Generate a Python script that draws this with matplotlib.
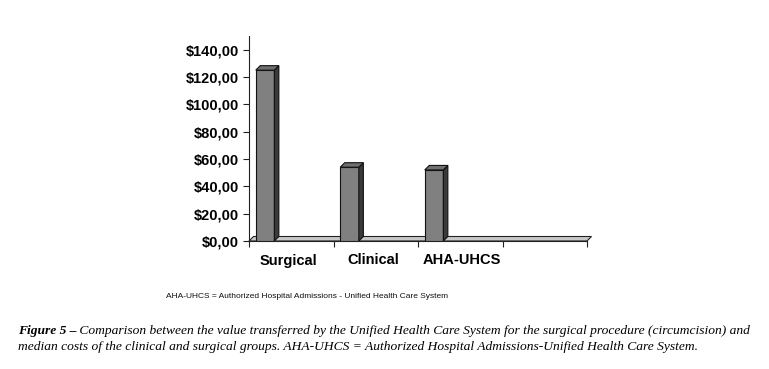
import matplotlib
matplotlib.use("Agg")
import matplotlib.pyplot as plt
from matplotlib.patches import Polygon
from matplotlib.transforms import ScaledTranslation

categories = ["Surgical", "Clinical", "AHA-UHCS", ""]
values = [125.0, 54.0, 52.0, 0.0]
ytick_values = [0, 20, 40, 60, 80, 100, 120, 140]
ytick_labels = ["$0,00", "$20,00", "$40,00", "$60,00", "$80,00", "$100,00", "$120,00", "$140,00"]
footnote = "AHA-UHCS = Authorized Hospital Admissions - Unified Health Care System"
caption_bold = "Figure 5 \u2013"
caption_line1 = " Comparison between the value transferred by the Unified Health Care System for the surgical procedure (circumcision) and"
caption_line2 = "median costs of the clinical and surgical groups. AHA-UHCS = Authorized Hospital Admissions-Unified Health Care System."

W, H = 769, 369
fig = plt.figure(figsize=(W / 100, H / 100), dpi=100)
left, right, top, bottom = 249, 587, 36, 241
ax = fig.add_axes([left / W, 1 - bottom / H, (right - left) / W, (bottom - top) / H])
ax.set_xlim(0, 4)
ax.set_ylim(0, 150)

depth_px = 4.5
dx = depth_px / (right - left) * 4
dy = depth_px / (bottom - top) * 150

floor = Polygon([(0, 0), (4, 0), (4 + dx, dy), (0 + dx, dy)], closed=True,
                facecolor="#c8c8c8", edgecolor="#222222", linewidth=0.8, zorder=1,
                clip_on=False)
ax.add_patch(floor)

bar_off, bar_w = 0.08, 0.22
for i, v in enumerate(values):
    if v <= 0:
        continue
    x0 = i + bar_off
    x1 = x0 + bar_w
    ax.bar(x0, v, width=bar_w, align="edge", color="#808080", edgecolor="#111111",
           linewidth=0.8, zorder=3)
    side = Polygon([(x1, 0), (x1, v), (x1 + dx, v + dy), (x1 + dx, dy)], closed=True,
                   facecolor="#3a3a3a", edgecolor="#111111", linewidth=0.8, zorder=3)
    topf = Polygon([(x0, v), (x1, v), (x1 + dx, v + dy), (x0 + dx, v + dy)], closed=True,
                   facecolor="#707070", edgecolor="#111111", linewidth=0.8, zorder=3)
    ax.add_patch(side)
    ax.add_patch(topf)

for s in ["top", "right"]:
    ax.spines[s].set_visible(False)
ax.spines["left"].set_color("#222222")
ax.spines["bottom"].set_color("#222222")
ax.spines["left"].set_linewidth(0.8)
ax.spines["bottom"].set_linewidth(0.8)

ax.set_yticks(ytick_values)
ax.set_yticklabels(ytick_labels, fontfamily="Liberation Sans", fontweight="bold", fontsize=10.5)
ax.tick_params(axis="y", length=4, width=0.8, pad=3, color="#222222")

ax.set_xticks([i + 0.5 for i in range(4)])
ax.set_xticklabels(categories, fontfamily="Liberation Sans", fontweight="bold", fontsize=10.5)
ax.tick_params(axis="x", which="major", length=0, pad=9)
ax.set_xticks([0, 1, 2, 3, 4], minor=True)
ax.tick_params(axis="x", which="minor", length=4, width=0.8, color="#222222")
for lbl, off in zip(ax.get_xticklabels(), [-3, -3, 2, 0]):
    lbl.set_transform(lbl.get_transform() + ScaledTranslation(off / 100, 0, fig.dpi_scale_trans))

fig.text(166 / W, 1 - 297 / H, footnote, fontfamily="Liberation Sans", fontsize=6.0,
         va="center", ha="left", color="#111111")

fs = 9.7
t1 = fig.text(18 / W, 1 - 331 / H, caption_bold, fontfamily="Liberation Serif",
              fontstyle="italic", fontweight="bold", fontsize=fs, va="center", ha="left")
fig.canvas.draw()
bb = t1.get_window_extent()
fig.text(bb.x1 / W, 1 - 331 / H, caption_line1, fontfamily="Liberation Serif",
         fontstyle="italic", fontsize=fs, va="center", ha="left")
fig.text(18 / W, 1 - 347 / H, caption_line2, fontfamily="Liberation Serif",
         fontstyle="italic", fontsize=fs, va="center", ha="left")

fig.savefig("out.png", dpi=100)
